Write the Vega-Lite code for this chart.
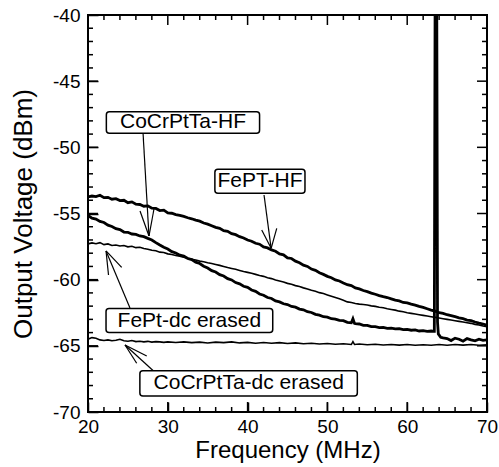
{
  "$schema": "https://vega.github.io/schema/vega-lite/v6.json",
  "width": 399,
  "height": 397,
  "autosize": "none",
  "padding": {"left": 88, "top": 15, "right": 12, "bottom": 55},
  "background": "white",
  "config": {
    "view": {"stroke": "black", "strokeWidth": 2},
    "axis": {
      "grid": false,
      "domain": false,
      "ticks": true,
      "tickColor": "black",
      "tickWidth": 1.5,
      "labelFont": "Liberation Sans",
      "labelFontSize": 19,
      "labelColor": "black",
      "titleFont": "Liberation Sans",
      "titleFontWeight": "normal",
      "titleColor": "black",
      "labelFlush": false,
      "labelOverlap": false
    }
  },
  "datasets": {
    "xmaj": [{"t":20,"e":-70},{"t":30,"e":-70},{"t":40,"e":-70},{"t":50,"e":-70},{"t":60,"e":-70},{"t":70,"e":-70},
             {"t":20,"e":-40},{"t":30,"e":-40},{"t":40,"e":-40},{"t":50,"e":-40},{"t":60,"e":-40},{"t":70,"e":-40}],
    "xmin": [{"t":22,"e":-70},{"t":24,"e":-70},{"t":26,"e":-70},{"t":28,"e":-70},{"t":32,"e":-70},{"t":34,"e":-70},{"t":36,"e":-70},{"t":38,"e":-70},{"t":42,"e":-70},{"t":44,"e":-70},
             {"t":46,"e":-70},{"t":48,"e":-70},{"t":52,"e":-70},{"t":54,"e":-70},{"t":56,"e":-70},{"t":58,"e":-70},{"t":62,"e":-70},{"t":64,"e":-70},{"t":66,"e":-70},{"t":68,"e":-70},
             {"t":22,"e":-40},{"t":24,"e":-40},{"t":26,"e":-40},{"t":28,"e":-40},{"t":32,"e":-40},{"t":34,"e":-40},{"t":36,"e":-40},{"t":38,"e":-40},{"t":42,"e":-40},{"t":44,"e":-40},
             {"t":46,"e":-40},{"t":48,"e":-40},{"t":52,"e":-40},{"t":54,"e":-40},{"t":56,"e":-40},{"t":58,"e":-40},{"t":62,"e":-40},{"t":64,"e":-40},{"t":66,"e":-40},{"t":68,"e":-40}],
    "ymaj": [{"t":-70,"e":20},{"t":-65,"e":20},{"t":-60,"e":20},{"t":-55,"e":20},{"t":-50,"e":20},{"t":-45,"e":20},{"t":-40,"e":20},
             {"t":-70,"e":70},{"t":-65,"e":70},{"t":-60,"e":70},{"t":-55,"e":70},{"t":-50,"e":70},{"t":-45,"e":70},{"t":-40,"e":70}],
    "ymin": [{"t":-69,"e":20},{"t":-68,"e":20},{"t":-67,"e":20},{"t":-66,"e":20},{"t":-64,"e":20},{"t":-63,"e":20},{"t":-62,"e":20},{"t":-61,"e":20},{"t":-59,"e":20},{"t":-58,"e":20},{"t":-57,"e":20},{"t":-56,"e":20},
             {"t":-54,"e":20},{"t":-53,"e":20},{"t":-52,"e":20},{"t":-51,"e":20},{"t":-49,"e":20},{"t":-48,"e":20},{"t":-47,"e":20},{"t":-46,"e":20},{"t":-44,"e":20},{"t":-43,"e":20},{"t":-42,"e":20},{"t":-41,"e":20},
             {"t":-69,"e":70},{"t":-68,"e":70},{"t":-67,"e":70},{"t":-66,"e":70},{"t":-64,"e":70},{"t":-63,"e":70},{"t":-62,"e":70},{"t":-61,"e":70},{"t":-59,"e":70},{"t":-58,"e":70},{"t":-57,"e":70},{"t":-56,"e":70},
             {"t":-54,"e":70},{"t":-53,"e":70},{"t":-52,"e":70},{"t":-51,"e":70},{"t":-49,"e":70},{"t":-48,"e":70},{"t":-47,"e":70},{"t":-46,"e":70},{"t":-44,"e":70},{"t":-43,"e":70},{"t":-42,"e":70},{"t":-41,"e":70}],
    "fept_hf": [
      {"f":20,"v":-53.75},{"f":20.5,"v":-53.68},{"f":21,"v":-53.72},{"f":21.5,"v":-53.62},{"f":22,"v":-53.8},{"f":22.5,"v":-53.78},{"f":23,"v":-53.92},{"f":23.5,"v":-53.88},{"f":24,"v":-54.02},{"f":24.5,"v":-54.0},
      {"f":25,"v":-54.18},{"f":25.5,"v":-54.12},{"f":26,"v":-54.3},{"f":26.5,"v":-54.32},{"f":27,"v":-54.45},{"f":27.5,"v":-54.42},{"f":28,"v":-54.6},{"f":28.5,"v":-54.62},{"f":29,"v":-54.78},{"f":29.5,"v":-54.75},
      {"f":30,"v":-54.95},{"f":30.5,"v":-54.98},{"f":31,"v":-55.08},{"f":31.5,"v":-55.15},{"f":32,"v":-55.22},{"f":32.5,"v":-55.32},{"f":33,"v":-55.4},{"f":33.5,"v":-55.5},{"f":34,"v":-55.58},{"f":34.5,"v":-55.72},
      {"f":35,"v":-55.8},{"f":35.5,"v":-55.92},{"f":36,"v":-56.05},{"f":36.5,"v":-56.12},{"f":37,"v":-56.3},{"f":37.5,"v":-56.35},{"f":38,"v":-56.52},{"f":38.5,"v":-56.6},{"f":39,"v":-56.75},{"f":39.5,"v":-56.85},
      {"f":40,"v":-57.0},{"f":40.5,"v":-57.1},{"f":41,"v":-57.25},{"f":41.5,"v":-57.32},{"f":42,"v":-57.52},{"f":42.5,"v":-57.6},{"f":43,"v":-57.75},{"f":43.5,"v":-57.85},{"f":44,"v":-58.05},{"f":44.5,"v":-58.12},
      {"f":45,"v":-58.35},{"f":45.5,"v":-58.4},{"f":46,"v":-58.6},{"f":46.5,"v":-58.72},{"f":47,"v":-58.9},{"f":47.5,"v":-59.0},{"f":48,"v":-59.2},{"f":48.5,"v":-59.3},{"f":49,"v":-59.48},{"f":49.5,"v":-59.6},
      {"f":50,"v":-59.75},{"f":50.5,"v":-59.85},{"f":51,"v":-60.02},{"f":51.5,"v":-60.1},{"f":52,"v":-60.25},{"f":52.5,"v":-60.38},{"f":53,"v":-60.45},{"f":53.5,"v":-60.62},{"f":54,"v":-60.7},{"f":54.5,"v":-60.82},
      {"f":55,"v":-60.9},{"f":55.5,"v":-61.02},{"f":56,"v":-61.1},{"f":56.5,"v":-61.2},{"f":57,"v":-61.28},{"f":57.5,"v":-61.35},{"f":58,"v":-61.45},{"f":58.5,"v":-61.55},{"f":59,"v":-61.6},{"f":59.5,"v":-61.72},
      {"f":60,"v":-61.75},{"f":60.5,"v":-61.85},{"f":61,"v":-61.92},{"f":61.5,"v":-62.02},{"f":62,"v":-62.1},{"f":62.5,"v":-62.2},{"f":63,"v":-62.3},{"f":63.5,"v":-62.38},{"f":64,"v":-62.5},{"f":64.5,"v":-62.55},
      {"f":65,"v":-62.65},{"f":65.5,"v":-62.72},{"f":66,"v":-62.8},{"f":66.5,"v":-62.88},{"f":67,"v":-62.95},{"f":67.5,"v":-63.05},{"f":68,"v":-63.1},{"f":68.5,"v":-63.2},{"f":69,"v":-63.28},{"f":69.5,"v":-63.35},{"f":70,"v":-63.45}
    ],
    "cocr_hf": [
      {"f":20,"v":-55.15},{"f":20.5,"v":-55.35},{"f":21,"v":-55.42},{"f":21.5,"v":-55.6},{"f":22,"v":-55.68},{"f":22.5,"v":-55.88},{"f":23,"v":-55.98},{"f":23.5,"v":-56.15},{"f":24,"v":-56.22},{"f":24.5,"v":-56.4},
      {"f":25,"v":-56.42},{"f":25.5,"v":-56.55},{"f":26,"v":-56.58},{"f":26.5,"v":-56.7},{"f":27,"v":-56.75},{"f":27.5,"v":-56.88},{"f":28,"v":-57.0},{"f":28.5,"v":-57.2},{"f":29,"v":-57.38},{"f":29.5,"v":-57.55},
      {"f":30,"v":-57.68},{"f":30.5,"v":-57.88},{"f":31,"v":-57.98},{"f":31.5,"v":-58.15},{"f":32,"v":-58.22},{"f":32.5,"v":-58.4},{"f":33,"v":-58.48},{"f":33.5,"v":-58.68},{"f":34,"v":-58.78},{"f":34.5,"v":-58.98},
      {"f":35,"v":-59.12},{"f":35.5,"v":-59.32},{"f":36,"v":-59.42},{"f":36.5,"v":-59.62},{"f":37,"v":-59.72},{"f":37.5,"v":-59.92},{"f":38,"v":-60.02},{"f":38.5,"v":-60.22},{"f":39,"v":-60.32},{"f":39.5,"v":-60.5},
      {"f":40,"v":-60.58},{"f":40.5,"v":-60.78},{"f":41,"v":-60.88},{"f":41.5,"v":-61.08},{"f":42,"v":-61.18},{"f":42.5,"v":-61.35},{"f":43,"v":-61.42},{"f":43.5,"v":-61.6},{"f":44,"v":-61.68},{"f":44.5,"v":-61.82},
      {"f":45,"v":-61.88},{"f":45.5,"v":-62.02},{"f":46,"v":-62.08},{"f":46.5,"v":-62.22},{"f":47,"v":-62.28},{"f":47.5,"v":-62.42},{"f":48,"v":-62.48},{"f":48.5,"v":-62.62},{"f":49,"v":-62.68},{"f":49.5,"v":-62.8},
      {"f":50,"v":-62.83},{"f":50.5,"v":-62.95},{"f":51,"v":-62.98},{"f":51.5,"v":-63.08},{"f":52,"v":-63.1},{"f":52.5,"v":-63.22},{"f":53,"v":-63.25},{"f":53.2,"v":-62.95},{"f":53.4,"v":-63.3},{"f":53.5,"v":-63.32},
      {"f":54,"v":-63.35},{"f":54.5,"v":-63.45},{"f":55,"v":-63.45},{"f":55.5,"v":-63.55},{"f":56,"v":-63.55},{"f":56.5,"v":-63.62},{"f":57,"v":-63.6},{"f":57.5,"v":-63.68},{"f":58,"v":-63.66},{"f":58.5,"v":-63.72},
      {"f":59,"v":-63.7},{"f":59.5,"v":-63.78},{"f":60,"v":-63.76},{"f":60.5,"v":-63.82},{"f":61,"v":-63.8},{"f":61.5,"v":-63.88},{"f":62,"v":-63.85},{"f":62.5,"v":-63.9},{"f":63,"v":-63.88},{"f":63.4,"v":-63.9},
      {"f":63.5,"v":-38},{"f":63.7,"v":-38},{"f":63.8,"v":-63.2},{"f":63.9,"v":-64.1},{"f":64.2,"v":-64.35},{"f":64.5,"v":-64.4},{"f":65,"v":-64.45},{"f":65.5,"v":-64.6},{"f":66,"v":-64.42},{"f":66.5,"v":-64.5},
      {"f":67,"v":-64.65},{"f":67.5,"v":-64.45},{"f":68,"v":-64.55},{"f":68.5,"v":-64.62},{"f":69,"v":-64.5},{"f":69.5,"v":-64.58},{"f":70,"v":-64.55}
    ],
    "fept_dc": [
      {"f":20,"v":-57.3},{"f":20.5,"v":-57.22},{"f":21,"v":-57.28},{"f":21.5,"v":-57.2},{"f":22,"v":-57.35},{"f":22.5,"v":-57.3},{"f":23,"v":-57.42},{"f":23.5,"v":-57.38},{"f":24,"v":-57.45},{"f":24.5,"v":-57.42},
      {"f":25,"v":-57.52},{"f":25.5,"v":-57.48},{"f":26,"v":-57.58},{"f":26.5,"v":-57.55},{"f":27,"v":-57.65},{"f":27.5,"v":-57.7},{"f":28,"v":-57.78},{"f":28.5,"v":-57.82},{"f":29,"v":-57.92},{"f":29.5,"v":-57.95},
      {"f":30,"v":-58.05},{"f":30.5,"v":-58.1},{"f":31,"v":-58.18},{"f":31.5,"v":-58.22},{"f":32,"v":-58.3},{"f":32.5,"v":-58.38},{"f":33,"v":-58.45},{"f":33.5,"v":-58.52},{"f":34,"v":-58.6},{"f":34.5,"v":-58.65},
      {"f":35,"v":-58.72},{"f":35.5,"v":-58.78},{"f":36,"v":-58.85},{"f":36.5,"v":-58.92},{"f":37,"v":-59.0},{"f":37.5,"v":-59.08},{"f":38,"v":-59.15},{"f":38.5,"v":-59.22},{"f":39,"v":-59.3},{"f":39.5,"v":-59.38},
      {"f":40,"v":-59.45},{"f":40.5,"v":-59.52},{"f":41,"v":-59.6},{"f":41.5,"v":-59.68},{"f":42,"v":-59.75},{"f":42.5,"v":-59.85},{"f":43,"v":-59.92},{"f":43.5,"v":-60.02},{"f":44,"v":-60.1},{"f":44.5,"v":-60.18},
      {"f":45,"v":-60.28},{"f":45.5,"v":-60.35},{"f":46,"v":-60.45},{"f":46.5,"v":-60.52},{"f":47,"v":-60.62},{"f":47.5,"v":-60.7},{"f":48,"v":-60.8},{"f":48.5,"v":-60.88},{"f":49,"v":-60.98},{"f":49.5,"v":-61.05},
      {"f":50,"v":-61.15},{"f":50.5,"v":-61.25},{"f":51,"v":-61.35},{"f":51.5,"v":-61.45},{"f":52,"v":-61.55},{"f":52.5,"v":-61.68},{"f":53,"v":-61.72},{"f":53.5,"v":-61.8},{"f":54,"v":-61.85},{"f":54.5,"v":-61.88},
      {"f":55,"v":-61.92},{"f":55.5,"v":-61.98},{"f":56,"v":-62.02},{"f":56.5,"v":-62.08},{"f":57,"v":-62.12},{"f":57.5,"v":-62.2},{"f":58,"v":-62.25},{"f":58.5,"v":-62.3},{"f":59,"v":-62.38},{"f":59.5,"v":-62.42},
      {"f":60,"v":-62.5},{"f":60.5,"v":-62.55},{"f":61,"v":-62.6},{"f":61.5,"v":-62.65},{"f":62,"v":-62.7},{"f":62.5,"v":-62.75},{"f":63,"v":-62.8},{"f":63.5,"v":-62.85},{"f":64,"v":-62.9},{"f":64.5,"v":-62.95},
      {"f":65,"v":-63.0},{"f":65.5,"v":-63.05},{"f":66,"v":-63.1},{"f":66.5,"v":-63.15},{"f":67,"v":-63.2},{"f":67.5,"v":-63.25},{"f":68,"v":-63.3},{"f":68.5,"v":-63.38},{"f":69,"v":-63.42},{"f":69.5,"v":-63.5},{"f":70,"v":-63.55}
    ],
    "cocr_dc": [
      {"f":20,"v":-64.5},{"f":20.5,"v":-64.38},{"f":21,"v":-64.42},{"f":21.5,"v":-64.55},{"f":22,"v":-64.6},{"f":22.5,"v":-64.55},{"f":23,"v":-64.62},{"f":23.5,"v":-64.58},{"f":24,"v":-64.5},{"f":24.5,"v":-64.62},
      {"f":25,"v":-64.65},{"f":25.5,"v":-64.6},{"f":26,"v":-64.68},{"f":26.5,"v":-64.65},{"f":27,"v":-64.7},{"f":27.5,"v":-64.66},{"f":28,"v":-64.72},{"f":28.5,"v":-64.68},{"f":29,"v":-64.7},{"f":29.5,"v":-64.74},
      {"f":30,"v":-64.7},{"f":31,"v":-64.75},{"f":32,"v":-64.7},{"f":33,"v":-64.76},{"f":34,"v":-64.72},{"f":35,"v":-64.78},{"f":36,"v":-64.72},{"f":37,"v":-64.76},{"f":38,"v":-64.7},{"f":39,"v":-64.78},
      {"f":40,"v":-64.74},{"f":41,"v":-64.8},{"f":42,"v":-64.75},{"f":43,"v":-64.8},{"f":44,"v":-64.76},{"f":45,"v":-64.82},{"f":46,"v":-64.78},{"f":47,"v":-64.84},{"f":48,"v":-64.8},{"f":49,"v":-64.86},
      {"f":50,"v":-64.82},{"f":51,"v":-64.88},{"f":52,"v":-64.84},{"f":53,"v":-64.9},{"f":53.2,"v":-64.68},{"f":53.4,"v":-64.9},{"f":54,"v":-64.86},{"f":55,"v":-64.92},{"f":56,"v":-64.88},{"f":57,"v":-64.94},
      {"f":58,"v":-64.9},{"f":59,"v":-64.95},{"f":60,"v":-64.9},{"f":61,"v":-64.96},{"f":62,"v":-64.92},{"f":63,"v":-64.96},{"f":64,"v":-64.9},{"f":65,"v":-64.96},{"f":66,"v":-64.9},{"f":67,"v":-64.95},
      {"f":68,"v":-64.9},{"f":69,"v":-64.96},{"f":70,"v":-64.92}
    ],
    "boxes": [
      {"label":"CoCrPtTa-HF","x1":22.3,"x2":41.5,"y1":-47.31,"y2":-48.94,"tx":31.9,"ty":-48.12},
      {"label":"FePT-HF","x1":35.9,"x2":47.19,"y1":-51.66,"y2":-53.47,"tx":41.55,"ty":-52.57},
      {"label":"FePt-dc erased","x1":22.26,"x2":43.15,"y1":-62.17,"y2":-64.0,"tx":32.7,"ty":-63.09},
      {"label":"CoCrPtTa-dc erased","x1":26.5,"x2":53.75,"y1":-66.88,"y2":-68.79,"tx":40.14,"ty":-67.83}
    ],
    "arrows": [
      {"x":26.9,"y":-48.96,"x2":27.64,"y2":-56.7},
      {"x":26.52,"y":-54.81,"x2":27.64,"y2":-56.7},
      {"x":28.27,"y":-54.66,"x2":27.64,"y2":-56.7},
      {"x":42.06,"y":-53.6,"x2":42.95,"y2":-57.63},
      {"x":41.77,"y":-56.25,"x2":42.95,"y2":-57.63},
      {"x":43.65,"y":-56.12,"x2":42.95,"y2":-57.63},
      {"x":25.26,"y":-62.14,"x2":22.26,"y2":-57.83},
      {"x":24.22,"y":-59.07,"x2":22.26,"y2":-57.83},
      {"x":22.57,"y":-59.65,"x2":22.26,"y2":-57.83},
      {"x":28.18,"y":-66.88,"x2":24.64,"y2":-64.94},
      {"x":27.36,"y":-65.77,"x2":24.64,"y2":-64.94},
      {"x":26.1,"y":-66.32,"x2":24.64,"y2":-64.94}
    ]
  },
  "resolve": {"axis": {"x": "independent", "y": "independent"}},
  "layer": [
    {
      "data": {"name": "fept_hf"},
      "mark": {"type": "line", "color": "black", "strokeWidth": 2.8, "clip": true},
      "encoding": {
        "x": {"field": "f", "type": "quantitative", "scale": {"domain": [20, 70], "nice": false, "zero": false},
          "axis": {"orient": "bottom", "values": [20, 30, 40, 50, 60, 70],
            "labelExpr": "toString(datum.value)", "tickSize": -10,
            "labelPadding": 15, "title": "Frequency (MHz)", "titleFontSize": 24, "titlePadding": 2}},
        "y": {"field": "v", "type": "quantitative", "scale": {"domain": [-70, -40], "nice": false, "zero": false},
          "axis": {"orient": "left", "values": [-70, -65, -60, -55, -50, -45, -40],
            "labelExpr": "toString(datum.value)", "tickSize": -10,
            "labelPadding": 18, "title": "Output Voltage (dBm)", "titleFontSize": 26, "titlePadding": 16}}
      }
    },
    {
      "data": {"name": "cocr_hf"},
      "mark": {"type": "line", "color": "black", "strokeWidth": 2.8, "clip": true},
      "encoding": {
        "x": {"field": "f", "type": "quantitative", "axis": null},
        "y": {"field": "v", "type": "quantitative", "axis": null}
      }
    },
    {
      "data": {"name": "fept_dc"},
      "mark": {"type": "line", "color": "black", "strokeWidth": 1.6, "clip": true},
      "encoding": {
        "x": {"field": "f", "type": "quantitative", "axis": null},
        "y": {"field": "v", "type": "quantitative", "axis": null}
      }
    },
    {
      "data": {"name": "cocr_dc"},
      "mark": {"type": "line", "color": "black", "strokeWidth": 1.6, "clip": true},
      "encoding": {
        "x": {"field": "f", "type": "quantitative", "axis": null},
        "y": {"field": "v", "type": "quantitative", "axis": null}
      }
    },
    {
      "data": {"name": "xmaj"},
      "mark": {"type": "tick", "orient": "vertical", "size": 20, "thickness": 1.5, "color": "black", "opacity": 1, "clip": true},
      "encoding": {"x": {"field": "t", "type": "quantitative", "axis": null}, "y": {"field": "e", "type": "quantitative", "axis": null}}
    },
    {
      "data": {"name": "xmin"},
      "mark": {"type": "tick", "orient": "vertical", "size": 10, "thickness": 1.5, "color": "black", "opacity": 1, "clip": true},
      "encoding": {"x": {"field": "t", "type": "quantitative", "axis": null}, "y": {"field": "e", "type": "quantitative", "axis": null}}
    },
    {
      "data": {"name": "ymaj"},
      "mark": {"type": "tick", "orient": "horizontal", "size": 20, "thickness": 1.5, "color": "black", "opacity": 1, "clip": true},
      "encoding": {"y": {"field": "t", "type": "quantitative", "axis": null}, "x": {"field": "e", "type": "quantitative", "axis": null}}
    },
    {
      "data": {"name": "ymin"},
      "mark": {"type": "tick", "orient": "horizontal", "size": 10, "thickness": 1.5, "color": "black", "opacity": 1, "clip": true},
      "encoding": {"y": {"field": "t", "type": "quantitative", "axis": null}, "x": {"field": "e", "type": "quantitative", "axis": null}}
    },
    {
      "data": {"name": "arrows"},
      "mark": {"type": "rule", "color": "black", "strokeWidth": 1.2},
      "encoding": {
        "x": {"field": "x", "type": "quantitative", "axis": null},
        "y": {"field": "y", "type": "quantitative", "axis": null},
        "x2": {"field": "x2"},
        "y2": {"field": "y2"}
      }
    },
    {
      "data": {"name": "boxes"},
      "mark": {"type": "rect", "fill": "white", "stroke": "black", "strokeWidth": 1.5, "cornerRadius": 3},
      "encoding": {
        "x": {"field": "x1", "type": "quantitative", "axis": null},
        "x2": {"field": "x2"},
        "y": {"field": "y1", "type": "quantitative", "axis": null},
        "y2": {"field": "y2"}
      }
    },
    {
      "data": {"name": "boxes"},
      "mark": {"type": "text", "font": "Liberation Sans", "fontSize": 21, "color": "black", "align": "center", "baseline": "middle"},
      "encoding": {
        "x": {"field": "tx", "type": "quantitative", "axis": null},
        "y": {"field": "ty", "type": "quantitative", "axis": null},
        "text": {"field": "label"}
      }
    }
  ]
}
